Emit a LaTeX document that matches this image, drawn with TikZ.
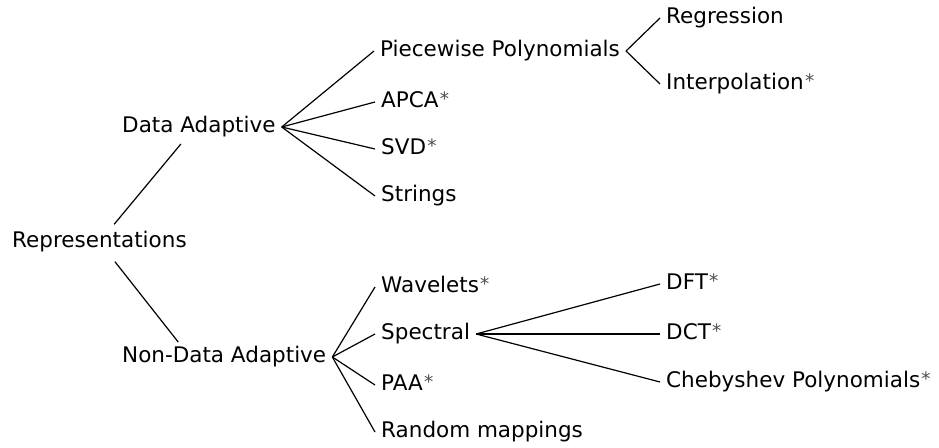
\documentclass[tikz,border=0pt]{standalone}
\usepackage{fontspec}
\setmainfont{DejaVu Sans}
% small raised asterisk after a label
\newcommand\starnote{\kern1.2pt\raisebox{2pt}{\fontsize{18.5}{18.5}\selectfont\color{black!70}*}}
\begin{document}
\begin{tikzpicture}[x=1pt,y=1pt,
  item/.style={anchor=west,inner xsep=6pt,inner ysep=7.5pt,
    text height=16pt,text depth=5pt,font=\fontsize{21.5}{25}\selectfont},
  branch/.style={line width=1.2pt}]
\useasboundingbox (0,0) rectangle (939,447);
% root and first level
\node[item] (rep) at (6,205) {Representations};
\node[item] (da) at (116,320) {Data Adaptive};
\node[item] (nda) at (116,90) {Non-Data Adaptive};
% data adaptive branch
\node[item] (pp) at (374,396) {Piecewise Polynomials};
\node[item] (apca) at (375,345) {APCA\starnote};
\node[item] (svd) at (375,298) {SVD\starnote};
\node[item] (str) at (375,251) {Strings};
\node[item] (reg) at (660,429) {Regression};
\node[item] (interp) at (660,363) {Interpolation\starnote};
% non-data adaptive branch
\node[item] (wav) at (375,160) {Wavelets\starnote};
\node[item] (spec) at (375,113) {Spectral};
\node[item] (paa) at (375,62) {PAA\starnote};
\node[item] (rand) at (375,15) {Random mappings};
\node[item] (dft) at (660,163) {DFT\starnote};
\node[item] (dct) at (660,113) {DCT\starnote};
\node[item] (cheb) at (660,65) {Chebyshev Polynomials\starnote};
% connectors
\draw[branch,shorten <=23pt,shorten >=22pt] (rep.center) -- ([xshift=79pt]da.west);
\draw[branch,shorten <=25pt,shorten >=19pt] (rep.center) -- ([xshift=74pt]nda.west);
\foreach \c in {pp,apca,svd,str} \draw[branch] (da.east) -- (\c.west);
\foreach \c in {reg,interp} \draw[branch] (pp.east) -- (\c.west);
\foreach \c in {wav,spec,paa,rand} \draw[branch] (nda.east) -- (\c.west);
\foreach \c in {dft,dct,cheb} \draw[branch] (spec.east) -- (\c.west);
\end{tikzpicture}
\end{document}
